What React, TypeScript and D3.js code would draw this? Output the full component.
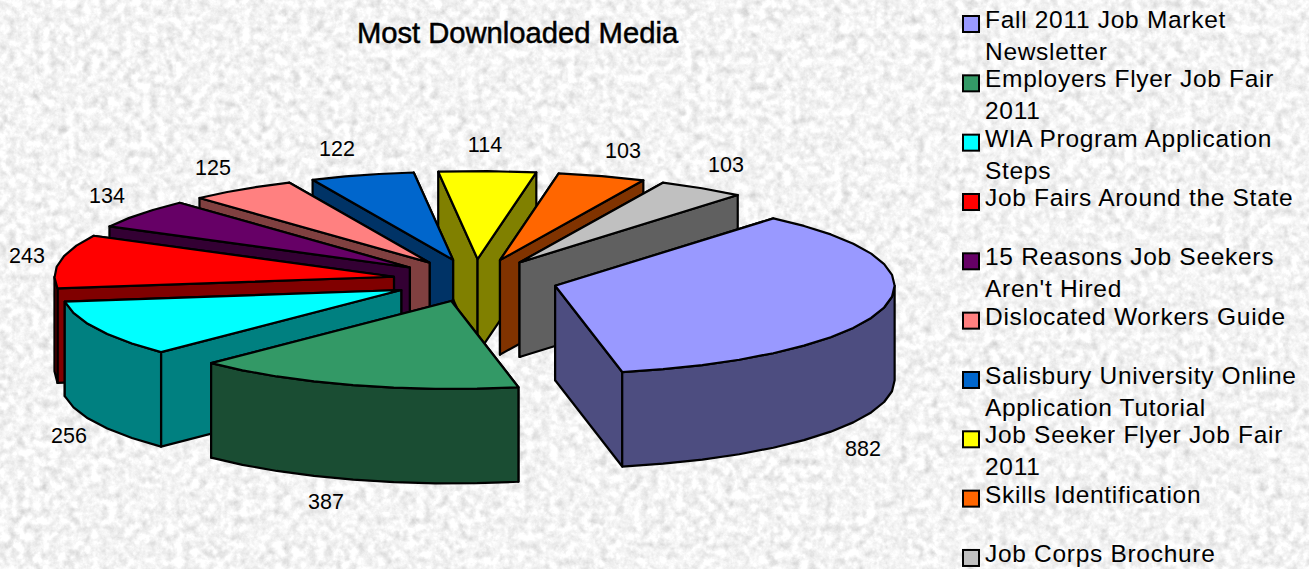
import React from "react";
import * as d3 from "d3";

const W = 1309, H = 569;
const chartTitle = "Most Downloaded Media";
const categories = [
  "Fall 2011 Job Market Newsletter", "Employers Flyer Job Fair 2011", "WIA Program Application Steps",
  "Job Fairs Around the State", "15 Reasons Job Seekers Aren't Hired", "Dislocated Workers Guide",
  "Salisbury University Online Application Tutorial", "Job Seeker Flyer Job Fair 2011",
  "Skills Identification", "Job Corps Brochure",
];
const legendLines = [
  ["Fall 2011 Job Market", "Newsletter"], ["Employers Flyer Job Fair", "2011"], ["WIA Program Application", "Steps"],
  ["Job Fairs Around the State"], ["15 Reasons Job Seekers", "Aren't Hired"], ["Dislocated Workers Guide"],
  ["Salisbury University Online", "Application Tutorial"], ["Job Seeker Flyer Job Fair", "2011"],
  ["Skills Identification"], ["Job Corps Brochure"],
];
const values = [882, 387, 256, 243, 134, 125, 122, 114, 103, 103];
const colors = ["#9999FF", "#339966", "#00FFFF", "#FF0000", "#660066", "#FF8080", "#0066CC", "#FFFF00", "#FF6600", "#C0C0C0"];
const labelCentres: [number, number][] = [
  [863, 448], [326, 501], [69, 435], [27, 255], [107, 195], [213, 167], [337, 148], [485, 144], [623, 150], [726, 164],
];

const rad = Math.PI / 180;
const CX = 475.2, CY = 280.5, RX = 339.5, RY = 88, DEPTH = 94.5, EXPLODE = 0.243, STEP = 7 * rad;
const sx = d3.scaleLinear().domain([-1, 1]).range([CX - RX, CX + RX]);
const sy = d3.scaleLinear().domain([-1, 1]).range([CY - RY, CY + RY]);

const START = 40 * rad;
const arcs = d3.pie<number>().sort(null).startAngle(START).endAngle(START + 2 * Math.PI)(values);
const line = d3.line<[number, number]>();

function angles(a0: number, a1: number) {
  const n = Math.max(1, Math.round((a1 - a0) / STEP));
  return d3.range(n + 1).map((i) => a0 + ((a1 - a0) * i) / n);
}

type Face = { d: string; fill: string };

function sliceFaces(i: number): { faces: Face[]; depth: number } {
  const { startAngle: a0, endAngle: a1 } = arcs[i];
  const mid = (a0 + a1) / 2;
  const ax = EXPLODE * Math.sin(mid), ay = -EXPLODE * Math.cos(mid);
  const P = (r: number, a: number, z = 0): [number, number] => [
    sx(ax + r * Math.sin(a)), sy(ay - r * Math.cos(a)) + z,
  ];
  const top = colors[i];
  const c = d3.rgb(top);
  const side = d3.rgb(c.r * 0.5, c.g * 0.5, c.b * 0.5).formatHex();
  const wall = (a: number): Face => ({
    d: line([P(0, 0), P(1, a), P(1, a, DEPTH), P(0, 0, DEPTH)])! + "Z", fill: side,
  });
  const order = Math.cos(a0) > Math.cos(a1) ? [wall(a0), wall(a1)] : [wall(a1), wall(a0)];
  const faces: Face[] = [...order];
  const r0 = Math.max(a0, 90 * rad), r1 = Math.min(a1, 270 * rad);
  if (r1 > r0) {
    const as = angles(r0, r1);
    faces.push({
      d: line([...as.map((a) => P(1, a)), ...as.slice().reverse().map((a) => P(1, a, DEPTH))])! + "Z",
      fill: side,
    });
  }
  faces.push({ d: line([P(0, 0), ...angles(a0, a1).map((a) => P(1, a))])! + "Z", fill: top });
  return { faces, depth: -Math.cos(mid) };
}

const slices = d3.sort(values.map((_, i) => sliceFaces(i)), (s) => s.depth);

const LEGEND_TOP = 24, LEGEND_STEP = 59.33, LINE_H = 32;
const font = "'Liberation Sans', Arial, sans-serif";

export default function App() {
  return (
    <svg width={W} height={H} viewBox={`0 0 ${W} ${H}`} style={{ position: "fixed", left: 0, top: 0, display: "block" }} fontFamily={font}>
      <defs>
        <filter id="granite" x="0" y="0" width="100%" height="100%" colorInterpolationFilters="sRGB">
          <feTurbulence type="fractalNoise" baseFrequency="0.12" numOctaves={4} seed={7} />
          <feColorMatrix
            type="matrix"
            values="0.2 0.2 0 0 0.755  0.2 0.2 0 0 0.755  0.2 0.2 0 0 0.755  0 0 0 0 1"
          />
        </filter>
      </defs>
      <rect width={W} height={H} fill="#eaeaea" />
      <rect width={W} height={H} filter="url(#granite)" />
      <text x={517.5} y={43} textAnchor="middle" fontSize={29.2} stroke="#000" strokeWidth={0.5} fill="#000">{chartTitle}</text>

      {slices.map((s, i) => (
        <g key={i} stroke="#000" strokeWidth={2.2} strokeLinejoin="round">
          {s.faces.map((f, j) => <path key={j} d={f.d} fill={f.fill} />)}
        </g>
      ))}

      {values.map((v, i) => (
        <text key={i} x={labelCentres[i][0]} y={labelCentres[i][1] + 7.5} textAnchor="middle" fontSize={21.5} fill="#000">{v}</text>
      ))}

      {categories.map((name, i) => {
        const y = LEGEND_TOP + LEGEND_STEP * i;
        return (
          <g key={name}>
            <rect x={963} y={y - 8} width={16} height={16} fill={colors[i]} stroke="#000" strokeWidth={2} />
            {legendLines[i].map((t, j) => (
              <text key={j} x={985} y={y + 4 + j * LINE_H} fontSize={24.5} letterSpacing={0.7} fill="#000">{t}</text>
            ))}
          </g>
        );
      })}
    </svg>
  );
}
